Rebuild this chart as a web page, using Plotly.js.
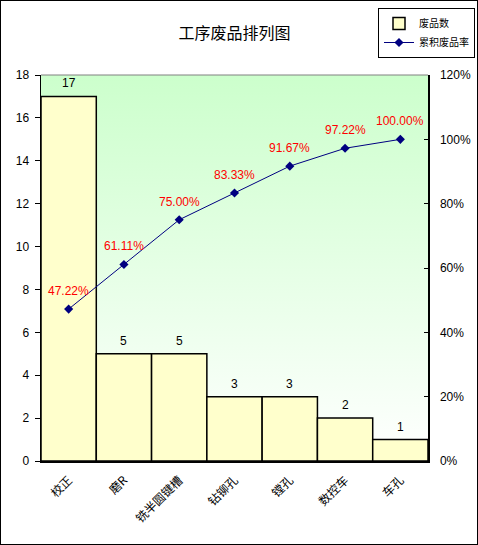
<!DOCTYPE html>
<html>
<head>
<meta charset="utf-8">
<script src="https://cdn.plot.ly/plotly-3.0.1.min.js"></script>
<style>
html,body{margin:0;padding:0;background:#fff;}
#wrap{position:relative;width:478px;height:545px;}
#chart{width:478px;height:545px;}
#frame{position:absolute;left:0;top:0;width:478px;height:545px;box-sizing:border-box;border:1px solid #000;pointer-events:none;}
</style>
</head>
<body>
<div id="wrap"><div id="chart"></div><div id="frame"></div></div>
<script>
const categories = ["校正", "磨R", "铣半圆键槽", "钻铆孔", "镗孔", "数控车", "车孔"];
const defects = [17, 5, 5, 3, 3, 2, 1];
const cumulativePct = [47.22, 61.11, 75.00, 83.33, 91.67, 97.22, 100.00];
const cumulativeLabels = ["47.22%", "61.11%", "75.00%", "83.33%", "91.67%", "97.22%", "100.00%"];
const leftTicks = [0, 2, 4, 6, 8, 10, 12, 14, 16, 18];
const rightTicks = [0, 20, 40, 60, 80, 100, 120];
const rightTickLabels = ["0%", "20%", "40%", "60%", "80%", "100%", "120%"];

const FONT = '"Liberation Sans", Arial, "Noto Sans CJK SC", sans-serif';
const CJK = '"Noto Sans CJK SC", "Liberation Sans", sans-serif';

const gradSvg = '<svg xmlns="http://www.w3.org/2000/svg" width="100" height="100" preserveAspectRatio="none">' +
  '<defs><linearGradient id="g" x1="0" y1="0" x2="0" y2="1">' +
  '<stop offset="0" stop-color="#ccffcc"/><stop offset="1" stop-color="#ffffff"/>' +
  '</linearGradient></defs><rect width="100" height="100" fill="url(#g)"/></svg>';
const gradUri = 'data:image/svg+xml;charset=utf-8,' + encodeURIComponent(gradSvg);

const traces = [
  {
    type: 'bar', name: '废品数', x: categories, y: defects,
    marker: {color: '#ffffcc', line: {color: '#000', width: 1.5}},
    width: 1, hoverinfo: 'none'
  },
  {
    type: 'scatter', mode: 'lines+markers', name: '累积废品率',
    x: categories, y: cumulativePct, yaxis: 'y2',
    line: {color: '#000080', width: 1},
    marker: {symbol: 'diamond', size: 7, color: '#000080'},
    hoverinfo: 'none'
  }
];

const annotations = [];
categories.forEach((c, i) => {
  annotations.push({x: c, y: defects[i], xref: 'x', yref: 'y', text: String(defects[i]),
    showarrow: false, yshift: 13, font: {family: FONT, size: 12, color: '#000'}});
  annotations.push({x: c, y: cumulativePct[i], xref: 'x', yref: 'y2', text: cumulativeLabels[i],
    showarrow: false, yshift: 18, font: {family: FONT, size: 12, color: '#ff0000'}});
});

const layout = {
  width: 478, height: 545,
  margin: {l: 41, r: 50, t: 75, b: 84, pad: 0, autoexpand: false},
  paper_bgcolor: '#fff',
  plot_bgcolor: 'rgba(0,0,0,0)',
  bargap: 0,
  showlegend: true,
  title: {text: '工序废品排列图', font: {family: CJK, size: 16, color: '#000'},
    x: 0.5, xref: 'paper', y: 1 - 33/545, yref: 'container', yanchor: 'middle'},
  font: {family: FONT, size: 12, color: '#000'},
  xaxis: {type: 'category', tickangle: -45, showline: true, linecolor: '#000', linewidth: 1.5,
    ticks: '', tickfont: {family: CJK, size: 12, color: '#000'}, showgrid: false, zeroline: false,
    ticklabelstandoff: 6, automargin: false, fixedrange: true},
  yaxis: {range: [0, 18], tickvals: leftTicks, ticks: 'outside', ticklen: 5, tickcolor: '#000',
    showline: true, linecolor: '#000', linewidth: 1.5, showgrid: false, zeroline: false,
    tickfont: {family: FONT, size: 12, color: '#000'}, ticklabelstandoff: 3, automargin: false, fixedrange: true},
  yaxis2: {range: [0, 120], overlaying: 'y', side: 'right', tickvals: rightTicks, ticktext: rightTickLabels,
    ticks: 'inside', ticklen: 4, tickcolor: '#000', showline: true, linecolor: '#000', linewidth: 1.5,
    showgrid: false, zeroline: false, tickfont: {family: FONT, size: 12, color: '#000'},
    ticklabelstandoff: 8, automargin: false, fixedrange: true},
  legend: {x: (378-41)/387, y: (461-8)/386, xanchor: 'left', yanchor: 'top',
    bgcolor: '#fff', bordercolor: '#000', borderwidth: 1,
    font: {family: CJK, size: 10, color: '#000'}, itemwidth: 30, tracegroupgap: 0,
    traceorder: 'normal'},
  images: [{source: gradUri, xref: 'paper', yref: 'paper', x: 0, y: 1, sizex: 1, sizey: 1,
    sizing: 'stretch', layer: 'below', xanchor: 'left', yanchor: 'top'}],
  shapes: [{type: 'line', xref: 'paper', yref: 'paper', x0: 0, x1: 1, y0: 1, y1: 1,
    line: {color: '#808080', width: 1}}],
  annotations: annotations
};

Plotly.newPlot('chart', traces, layout, {staticPlot: true, displayModeBar: false});
</script>
</body>
</html>
